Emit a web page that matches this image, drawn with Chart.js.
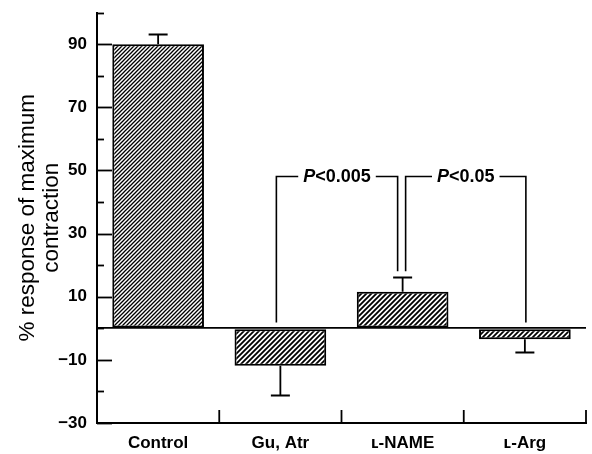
<!DOCTYPE html>
<html>
<head>
<meta charset="utf-8">
<script src="https://cdn.jsdelivr.net/npm/chart.js@4.4.1/dist/chart.umd.min.js"></script>
<style>
  html, body { margin: 0; padding: 0; background: #fff; }
  #wrap { width: 592px; height: 454px; position: relative; }
</style>
</head>
<body>
<div id="wrap"><canvas id="c" width="592" height="454"></canvas></div>
<script>
// ---- data ----
const categories = ['Control', 'Gu, Atr', '\u029F-NAME', '\u029F-Arg'];
const responses = [90, -11.9, 11.6, -3.5];
const errors = [3.2, 9.2, 4.7, 3.9];
const yTickLabels = [-30, -10, 10, 30, 50, 70, 90];
const bracketFrom = [1, 2];
const bracketTo = [2, 3];
const bracketTop = [48.2, 48.2];
const bracketText = ['<0.005', '<0.05'];

const FONT = '"Liberation Sans", Arial, Helvetica, sans-serif';
const canvas = document.getElementById('c');
const ctx0 = canvas.getContext('2d');

function hatch(p, lw) {
  const c = document.createElement('canvas');
  c.width = p; c.height = p;
  const g = c.getContext('2d');
  g.fillStyle = '#fff';
  g.fillRect(0, 0, p, p);
  g.strokeStyle = '#000';
  g.lineWidth = lw;
  g.beginPath();
  g.moveTo(-1, p + 1); g.lineTo(p + 1, -1);
  g.moveTo(-p / 2 - 1, p / 2 + 1); g.lineTo(p / 2 + 1, -p / 2 - 1);
  g.moveTo(p / 2 - 1, p * 1.5 + 1); g.lineTo(p * 1.5 + 1, p / 2 - 1);
  g.stroke();
  return ctx0.createPattern(c, 'repeat');
}
const fills = [hatch(4, 1.3), hatch(5, 1.8), hatch(5, 1.8), hatch(5, 1.8)];

const overlay = {
  id: 'overlay',
  afterDatasetsDraw(chart) {
    const ctx = chart.ctx;
    const x = chart.scales.x, y = chart.scales.y;
    const area = chart.chartArea;
    ctx.save();
    ctx.strokeStyle = '#000';
    ctx.fillStyle = '#000';
    // inner y ticks
    ctx.lineWidth = 1.8;
    for (let v = -30; v <= 100; v += 10) {
      const py = Math.round(y.getPixelForValue(v)) + 0.5;
      const len = yTickLabels.includes(v) ? 15 : 7;
      ctx.beginPath();
      ctx.moveTo(area.left, py);
      ctx.lineTo(area.left + len, py);
      ctx.stroke();
    }
    // x category boundary ticks
    const w = (area.right - area.left) / categories.length;
    for (let i = 1; i <= categories.length; i++) {
      const px = area.left + i * w;
      ctx.beginPath();
      ctx.moveTo(px, area.bottom);
      ctx.lineTo(px, area.bottom - 13);
      ctx.stroke();
    }
    // error bars
    ctx.lineWidth = 1.8;
    const meta = chart.getDatasetMeta(0);
    responses.forEach((v, i) => {
      const bar = meta.data[i];
      const cx = bar.x;
      const end = v >= 0 ? v + errors[i] : v - errors[i];
      const p0 = y.getPixelForValue(v);
      const p1 = Math.round(y.getPixelForValue(end)) + 0.5;
      ctx.beginPath();
      ctx.moveTo(cx, p0);
      ctx.lineTo(cx, p1);
      ctx.moveTo(cx - 9.5, p1);
      ctx.lineTo(cx + 9.5, p1);
      ctx.stroke();
    });
    // significance brackets
    ctx.lineWidth = 1.6;
    const font = 'bold 18px ' + FONT;
    const ifont = 'italic bold 18px ' + FONT;
    bracketFrom.forEach((a, k) => {
      const b = bracketTo[k];
      const endVal = i => Math.max(0, responses[i] >= 0 ? responses[i] + errors[i] : 0) + 1.8;
      let xa = x.getPixelForValue(a);
      let xb = x.getPixelForValue(b);
      if (k === 0) { xa -= 4; xb -= 5; } else { xa += 3; xb += 1; }
      const ty = Math.round(y.getPixelForValue(bracketTop[k])) + 0.5;
      const ya = y.getPixelForValue(endVal(a));
      const yb = y.getPixelForValue(endVal(b));
      ctx.font = ifont;
      const wP = ctx.measureText('P').width;
      ctx.font = font;
      const wT = ctx.measureText(bracketText[k]).width;
      const tw = wP + wT;
      const mid = (xa + xb) / 2;
      const tx = mid - tw / 2;
      ctx.beginPath();
      ctx.moveTo(xa, ya); ctx.lineTo(xa, ty); ctx.lineTo(tx - 5, ty);
      ctx.moveTo(tx + tw + 5, ty); ctx.lineTo(xb, ty); ctx.lineTo(xb, yb);
      ctx.stroke();
      ctx.textBaseline = 'middle';
      ctx.textAlign = 'left';
      ctx.font = ifont;
      ctx.fillText('P', tx, ty + 1);
      ctx.font = font;
      ctx.fillText(bracketText[k], tx + wP, ty + 1);
    });
    ctx.restore();
  }
};

new Chart(canvas, {
  type: 'bar',
  data: {
    labels: categories,
    datasets: [{
      data: responses,
      backgroundColor: fills,
      borderColor: '#000',
      borderWidth: 2,
      borderSkipped: false,
      categoryPercentage: 1,
      barPercentage: 0.75
    }]
  },
  options: {
    responsive: false,
    animation: false,
    devicePixelRatio: 1,
    layout: { padding: { top: 12.6, right: 6, left: 0, bottom: 0 } },
    plugins: { legend: { display: false }, tooltip: { enabled: false } },
    scales: {
      x: {
        type: 'category',
        offset: true,
        grid: { display: false, drawTicks: false },
        border: { display: true, color: '#000', width: 2 },
        ticks: { color: '#000', font: { family: FONT, size: 17, weight: 'bold' }, padding: 10, maxRotation: 0 },
        afterFit(s) { s.height = 31; }
      },
      y: {
        min: -30,
        max: 100,
        grid: {
          display: true,
          drawTicks: false,
          color: c => (c.tick && c.tick.value === 0) ? '#000' : 'rgba(0,0,0,0)',
          lineWidth: 1.8
        },
        border: { display: true, color: '#000', width: 2 },
        ticks: {
          stepSize: 10,
          autoSkip: false,
          color: '#000',
          padding: 10,
          font: { family: FONT, size: 17, weight: 'bold' },
          callback: v => yTickLabels.includes(v) ? (v < 0 ? '\u2212' + Math.abs(v) : String(v)) : ''
        },
        title: {
          display: true,
          text: ['% response of maximum', 'contraction'],
          color: '#000',
          font: { family: FONT, size: 22.5, weight: 'normal', lineHeight: 1.07 },
          padding: { top: 16, bottom: 0 }
        },
        afterFit(s) { s.width = 97; s.paddingTop = 0; s.paddingBottom = 0; }
      }
    }
  },
  plugins: [overlay]
});
</script>
</body>
</html>
